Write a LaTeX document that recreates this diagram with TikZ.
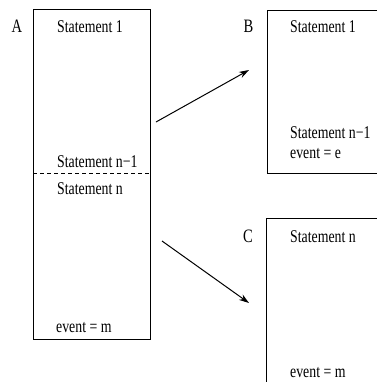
\documentclass[tikz,border=0pt]{standalone}
\usepackage{fontspec}
\setmainfont{Liberation Serif}[FakeStretch=0.77]
\usetikzlibrary{arrows.meta}
\begin{document}
\begin{tikzpicture}[x=1bp,y=-1bp,
  every node/.style={font=\fontsize{18}{20}\selectfont, inner sep=0pt},
  frame/.style={draw, line width=1bp, inner sep=0pt, anchor=north west},
  txt/.style={anchor=base west},
  tag/.style={anchor=base west, font=\fontsize{19}{21}\selectfont},
  link/.style={line width=1bp, -{Stealth[length=10bp,width=6.5bp]}}]
\useasboundingbox (0,0) rectangle (377,382);
\clip (0,0) rectangle (377,382);

% block A
\node[frame, minimum width=117bp, minimum height=330bp] (boxA) at (33,9) {};
\node[tag] (labA) at (11.5,32) {A};
\node[txt] (a1) at (57,32) {Statement 1};
\node[txt] (a2) at (57,167) {Statement n−1};
\coordinate (cutL) at (33,173);
\coordinate (cutR) at (150,173);
\draw[line width=0.8bp, dash pattern=on 4bp off 3bp] (cutL) -- (cutR);
\node[txt] (a3) at (57,194) {Statement n};
\node[txt] (a4) at (56,332) {event = m};

% block B
\node[frame, minimum width=140bp, minimum height=163.5bp] (boxB) at (267,9.5) {};
\node[tag] (labB) at (243.5,32) {B};
\node[txt] (b1) at (290,32) {Statement 1};
\node[txt] (b2) at (290,138) {Statement n−1};
\node[txt] (b3) at (290,158) {event = e};

% block C
\node[frame, minimum width=140bp, minimum height=200bp] (boxC) at (266,218) {};
\node[tag] (labC) at (243,242) {C};
\node[txt] (c1) at (290,242) {Statement n};
\node[txt] (c2) at (290,377) {event = m};

% split arrows
\coordinate (s1) at (156,122);
\coordinate (e1) at (249,70);
\coordinate (s2) at (162,241);
\coordinate (e2) at (249,303);
\draw[link] (s1) -- (e1);
\draw[link] (s2) -- (e2);
\end{tikzpicture}
\end{document}
